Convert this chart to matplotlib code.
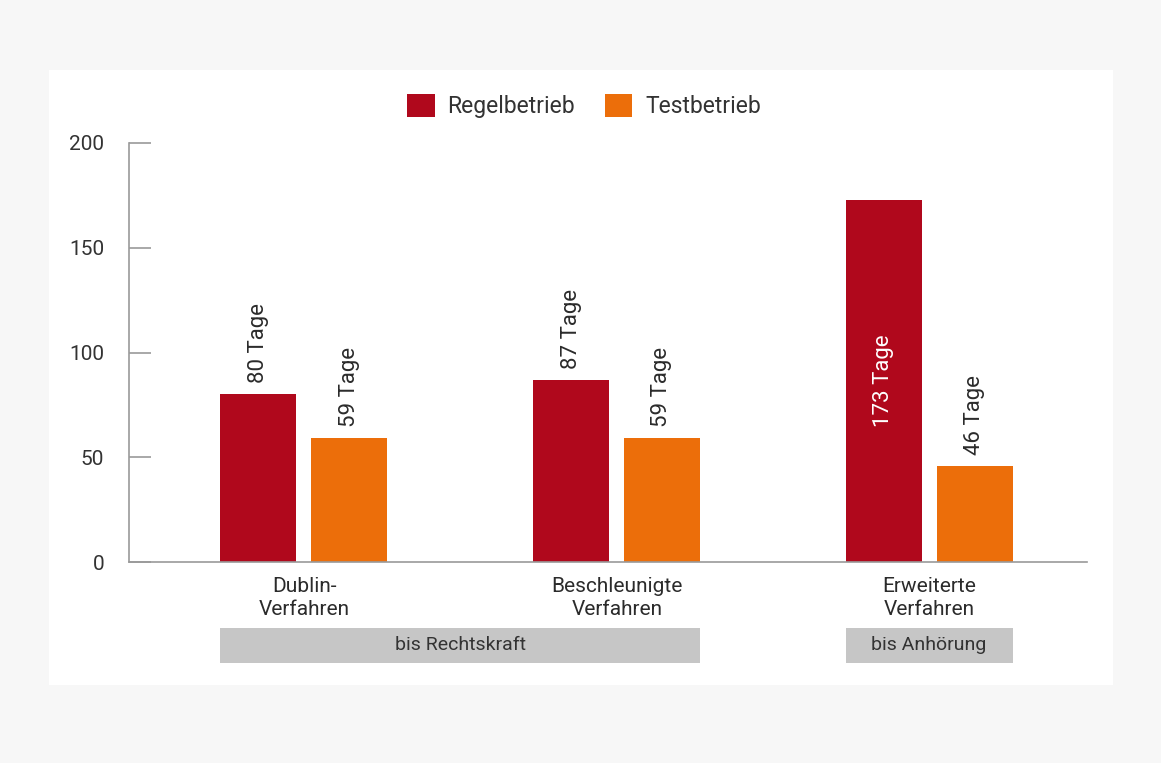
import matplotlib
matplotlib.use("Agg")
import matplotlib.pyplot as plt
from matplotlib.patches import Rectangle
import matplotlib.transforms as mtransforms
import numpy as np

categories = ["Dublin-\nVerfahren", "Beschleunigte\nVerfahren", "Erweiterte\nVerfahren"]
series_names = ["Regelbetrieb", "Testbetrieb"]
regel = [80, 87, 173]
test = [59, 59, 46]
y_ticks = [0, 50, 100, 150, 200]
bands = [("bis Rechtskraft", 0, 1), ("bis Anhörung", 2, 2)]

RED = "#b0081c"
ORANGE = "#ec6e0a"
TXT = "#2b2b2b"
FONT = ["Roboto", "DejaVu Sans"]
plt.rcParams['font.family'] = FONT

W, H = 1161, 763
fig = plt.figure(figsize=(W / 100, H / 100), dpi=100)
fig.patch.set_facecolor("#f7f7f7")
fig.patches.append(Rectangle((49 / W, 1 - 685 / H), (1113 - 49) / W, (685 - 70) / H,
                             transform=fig.transFigure, facecolor="white", edgecolor="none", zorder=-10))

ax = fig.add_axes([129 / W, 1 - 562 / H, (1087 - 129) / W, (562 - 143) / H])
ax.set_facecolor("none")

x = np.arange(len(categories))
bw = 76 / 313
off = 45.5 / 313
b1 = ax.bar(x - off - 0.5 / 313, regel, bw, color=RED, label=series_names[0], zorder=2)
b2 = ax.bar(x + off - 0.5 / 313, test, bw, color=ORANGE, label=series_names[1], zorder=2)

ax.set_xlim(-175.5 / 313, 783.5 / 313)
ax.set_ylim(0, 200)
ax.set_yticks(y_ticks)
ax.set_yticklabels([str(t) for t in y_ticks], fontsize=15, color="#333333")
ax.tick_params(axis="y", direction="in", length=15.8, width=1.2, color="#9a9a9a", pad=18)
ax.set_xticks(x)
ax.set_xticklabels(categories, fontsize=15, color=TXT, linespacing=1.3)
ax.tick_params(axis="x", length=0, pad=10.5)
for s in ["top", "right"]:
    ax.spines[s].set_visible(False)
for s in ["left", "bottom"]:
    ax.spines[s].set_color("#9a9a9a")
    ax.spines[s].set_linewidth(1.2)

for bars, vals in ((b1, regel), (b2, test)):
    for rect, v in zip(bars, vals):
        cx = rect.get_x() + rect.get_width() / 2
        lab = f"{v} Tage"
        if v > 150:
            ax.text(cx, v / 2, lab, rotation=90, ha="center", va="center",
                    fontsize=16, color="white", zorder=3)
        else:
            ax.annotate(lab, (cx, v), xytext=(0, 8), textcoords="offset points",
                        rotation=90, ha="center", va="bottom", fontsize=16, color=TXT, zorder=3)

trans = mtransforms.blended_transform_factory(ax.transData, ax.transAxes)
for label, i0, i1 in bands:
    x0 = b1[i0].get_x()
    x1 = b2[i1].get_x() + b2[i1].get_width()
    y0 = -(663 - 562) / 419
    h = (663 - 628) / 419
    ax.add_patch(Rectangle((x0, y0), x1 - x0, h, transform=trans, facecolor="#c6c6c6",
                           edgecolor="none", clip_on=False, zorder=1))
    ax.text((x0 + x1) / 2, y0 + h / 2, label, transform=trans, ha="center", va="center",
            fontsize=14, color="#333333", clip_on=False)

leg = fig.legend(loc="center", bbox_to_anchor=(584 / W, 1 - 106 / H), ncol=2, frameon=False,
                 fontsize=16.5, handlelength=1.2, handleheight=1.2, handletextpad=0.55,
                 columnspacing=1.3)
for t in leg.get_texts():
    t.set_color("#333333")

fig.savefig("out.png", dpi=100, facecolor=fig.get_facecolor())
